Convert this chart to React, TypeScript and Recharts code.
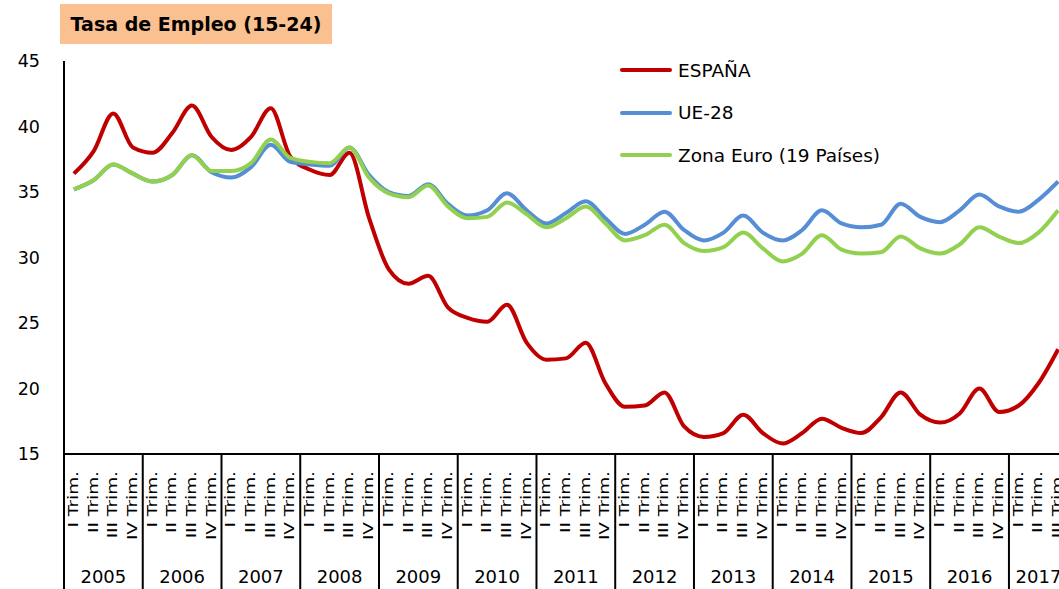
import { LineChart, Line, XAxis, YAxis } from 'recharts';

// Quarterly employment rate, ages 15-24 (2005 Q1 .. 2017 Q3)
const years = ['2005', '2006', '2007', '2008', '2009', '2010', '2011', '2012', '2013', '2014', '2015', '2016', '2017'];
const quarters = ['I', 'II', 'III', 'IV'];

const espana = [
  36.4, 38.1, 41.0, 38.4,
  38.0, 39.5, 41.6, 39.2,
  38.2, 39.2, 41.4, 37.7,
  36.7, 36.3, 38.0, 33.0,
  29.1, 28.0, 28.6, 26.2,
  25.4, 25.1, 26.4, 23.5,
  22.2, 22.3, 23.5, 20.4,
  18.6, 18.7, 19.7, 17.1,
  16.3, 16.6, 18.0, 16.6,
  15.8, 16.6, 17.7, 17.0,
  16.6, 17.8, 19.7, 18.0,
  17.4, 18.1, 20.0, 18.2,
  18.7, 20.4, 23.0,
];

const ue28 = [
  35.2, 35.9, 37.1, 36.4,
  35.8, 36.3, 37.8, 36.5,
  36.1, 36.9, 38.6, 37.3,
  37.1, 37.0, 38.4, 36.3,
  35.0, 34.7, 35.6, 34.1,
  33.2, 33.6, 34.9, 33.6,
  32.6, 33.4, 34.3, 33.0,
  31.8, 32.5, 33.5, 32.1,
  31.3, 31.9, 33.2, 31.9,
  31.3, 32.1, 33.6, 32.6,
  32.3, 32.5, 34.1, 33.1,
  32.7, 33.6, 34.8, 33.9,
  33.5, 34.4, 35.8,
];

const zonaEuro = [
  35.2, 35.9, 37.1, 36.4,
  35.8, 36.3, 37.8, 36.6,
  36.6, 37.2, 39.0, 37.6,
  37.3, 37.2, 38.4, 36.1,
  34.9, 34.6, 35.5, 33.9,
  33.0, 33.1, 34.2, 33.3,
  32.3, 33.0, 33.9, 32.6,
  31.3, 31.7, 32.5, 31.1,
  30.5, 30.8, 31.9, 30.7,
  29.7, 30.3, 31.7, 30.6,
  30.3, 30.4, 31.6, 30.7,
  30.3, 31.0, 32.3, 31.6,
  31.1, 31.9, 33.6,
];

const yTicks = [15, 20, 25, 30, 35, 40, 45];

const series = [
  { key: 'espana', name: 'ESPAÑA', color: '#C00000' },
  { key: 'ue28', name: 'UE-28', color: '#558ED5' },
  { key: 'zona', name: 'Zona Euro (19 Países)', color: '#92D050' },
];

const rows = espana.map((v, i) => ({
  key: `${years[Math.floor(i / 4)]}|${quarters[i % 4]}`,
  espana: v,
  ue28: ue28[i],
  zona: zonaEuro[i],
}));

const quartersInYear = (year: string) => rows.filter((r) => r.key.startsWith(year + '|')).length;

const QuarterTick = (props: any) => {
  const { x, y, payload } = props;
  const [year, q] = String(payload.value).split('|');
  const half = payload.offset || 9.84;
  const first = q === 'I';
  return (
    <g>
      <text
        transform={`translate(${x + 4},${y + 17}) rotate(-90) scale(1.32,1)`}
        textAnchor="end"
        fontSize={14}
        fill="#000"
      >
        {q} Trim.
      </text>
      {first && (
        <line x1={x - half} x2={x - half} y1={y} y2={y + 140} stroke="#000" strokeWidth={2} />
      )}
      {first && (
        <text x={x - half + half * quartersInYear(year)} y={y + 129} textAnchor="middle" fontSize={18} fill="#000">
          {year}
        </text>
      )}
    </g>
  );
};

export default function App() {
  return (
    <div
      style={{
        position: 'absolute',
        left: 0,
        top: 0,
        width: 1059,
        height: 589,
        overflow: 'hidden',
        background: '#fff',
        fontFamily: '"DejaVu Sans", sans-serif',
      }}
    >
      <div
        style={{
          position: 'absolute',
          left: 60,
          top: 4,
          width: 272,
          height: 40,
          background: '#FAC090',
          fontWeight: 'bold',
          fontSize: 19,
          lineHeight: '40px',
          textAlign: 'center',
          color: '#000',
          zIndex: 2,
        }}
      >
        Tasa de Empleo (15-24)
      </div>

      <div style={{ position: 'absolute', left: 620, top: 49, zIndex: 2 }}>
        {series.map((s) => (
          <div key={s.key} style={{ display: 'flex', alignItems: 'center', height: 42.5 }}>
            <span style={{ width: 52, height: 4, background: s.color, borderRadius: 2, marginRight: 6 }} />
            <span style={{ fontSize: 18.5, color: '#000' }}>{s.name}</span>
          </div>
        ))}
      </div>

      <LineChart width={1080} height={589} data={rows} margin={{ top: 61, right: 12, left: 0, bottom: 0 }}>
        <XAxis
          dataKey="key"
          interval={0}
          height={135}
          padding={{ left: 9.84, right: 9.84 }}
          tickLine={false}
          tickSize={0}
          tickMargin={0}
          axisLine={{ stroke: '#000', strokeWidth: 2 }}
          tick={<QuarterTick />}
        />
        <YAxis
          domain={[15, 45]}
          ticks={yTicks}
          width={64}
          tickLine={false}
          tickSize={0}
          tickMargin={24}
          axisLine={{ stroke: '#000', strokeWidth: 2 }}
          tick={{ fill: '#000', fontSize: 17.5 }}
        />
        {series.map((s) => (
          <Line
            key={s.key}
            type="monotone"
            dataKey={s.key}
            name={s.name}
            stroke={s.color}
            strokeWidth={4}
            dot={false}
            isAnimationActive={false}
          />
        ))}
      </LineChart>
    </div>
  );
}
